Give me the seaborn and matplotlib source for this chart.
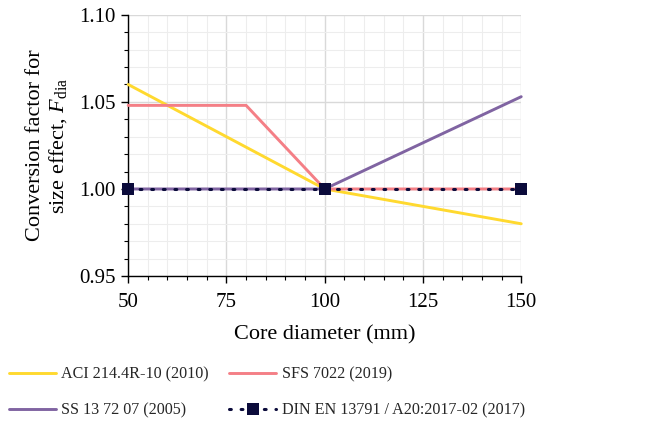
import matplotlib
matplotlib.use("Agg")
import matplotlib.pyplot as plt
from matplotlib.ticker import MultipleLocator, FormatStrFormatter
import pandas as pd
import seaborn as sns

# Conversion factor curves for core diameter
aci_d = [50, 100, 150]
aci_f = [1.06, 1.00, 0.98]
sfs_d = [50, 80, 100, 150]
sfs_f = [1.048, 1.048, 1.00, 1.00]
ss_d = [50, 100, 150]
ss_f = [1.00, 1.00, 1.053]
din_d = [50, 100, 150]
din_f = [1.00, 1.00, 1.00]

labels = ["ACI 214.4R-10 (2010)", "SFS 7022 (2019)", "SS 13 72 07 (2005)",
          "DIN EN 13791 / A20:2017-02 (2017)"]
colors = ["#FFD92F", "#F47F86", "#8064A2", "#0B0B3B"]

sns.set_theme(style="white")
plt.rcParams["font.family"] = ["Liberation Serif", "DejaVu Serif"]
plt.rcParams["mathtext.fontset"] = "custom"
plt.rcParams["mathtext.rm"] = "Liberation Serif"
plt.rcParams["mathtext.it"] = "Liberation Serif:italic"

fig = plt.figure(figsize=(6.54, 4.24), dpi=100)
ax = fig.add_axes([0.196, 0.349, 0.601, 0.616])

aci = pd.DataFrame({"d": aci_d, "f": aci_f})
sfs = pd.DataFrame({"d": sfs_d, "f": sfs_f})
ss = pd.DataFrame({"d": ss_d, "f": ss_f})
din = pd.DataFrame({"d": din_d, "f": din_f})

lw = 2.1
dot_style = (0, (0.6, 3.2))
sns.lineplot(data=aci, x="d", y="f", ax=ax, color=colors[0], lw=lw, zorder=3)
sns.lineplot(data=ss, x="d", y="f", ax=ax, color=colors[2], lw=lw, zorder=4)
sns.lineplot(data=sfs, x="d", y="f", ax=ax, color=colors[1], lw=lw, zorder=5)
sns.lineplot(data=din, x="d", y="f", ax=ax, color=colors[3], lw=2.2,
             linestyle=dot_style, marker="s", markersize=8,
             markeredgewidth=0, zorder=6)
ax.lines[-1].set_dash_capstyle("round")
for line in ax.lines:
    line.set_clip_on(False)

ax.set_xlim(50, 150)
ax.set_ylim(0.95, 1.10)
ax.xaxis.set_major_locator(MultipleLocator(25))
ax.xaxis.set_minor_locator(MultipleLocator(5))
ax.yaxis.set_major_locator(MultipleLocator(0.05))
ax.yaxis.set_minor_locator(MultipleLocator(0.01))
ax.yaxis.set_major_formatter(FormatStrFormatter("%.2f"))

ax.grid(which="major", color="#D9D9D9", lw=1.0)
ax.grid(which="minor", color="#EDEDED", lw=0.8)
ax.set_axisbelow(True)

for s in ["top", "right"]:
    ax.spines[s].set_visible(False)
for s in ["left", "bottom"]:
    ax.spines[s].set_color("black")
    ax.spines[s].set_linewidth(1.0)

ax.tick_params(axis="both", which="major", direction="out", length=5, width=1,
               color="black", labelsize=15, labelcolor="black", left=True, bottom=True)
ax.tick_params(axis="both", which="minor", direction="out", length=3, width=0.8,
               color="black", left=True, bottom=True)
ax.tick_params(axis="x", pad=7)
ax.tick_params(axis="y", pad=4)

ax.set_xlabel("Core diameter (mm)", fontsize=16, color="black", labelpad=10)
ax.set_ylabel("Conversion factor for\nsize effect, $F_{\\mathrm{dia}}$",
              fontsize=16, color="black", labelpad=7, linespacing=1.15)

handles = {
    labels[0]: plt.Line2D([], [], color=colors[0], lw=lw),
    labels[1]: plt.Line2D([], [], color=colors[1], lw=lw),
    labels[2]: plt.Line2D([], [], color=colors[2], lw=lw),
    labels[3]: plt.Line2D([], [], color=colors[3], lw=2.2, linestyle=dot_style,
                          dash_capstyle="round", marker="s", markersize=8,
                          markeredgewidth=0),
}
# column-major fill: first column ACI / SS, second column SFS / DIN
order = [labels[0], labels[2], labels[1], labels[3]]
fig.legend([handles[k] for k in order], order, loc="lower left",
           bbox_to_anchor=(0.004, -0.003), ncol=2, frameon=False, fontsize=11.6,
           handlelength=2.9, columnspacing=1.25, labelspacing=1.25,
           handletextpad=0.35, borderaxespad=0.0)

fig.savefig("out.png", dpi=100)
